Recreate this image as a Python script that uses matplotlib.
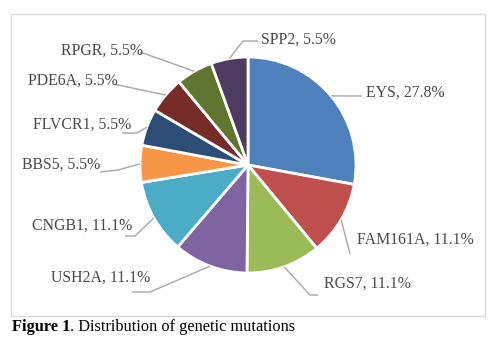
import numpy as np
import matplotlib
matplotlib.use("Agg")
import matplotlib.pyplot as plt
from matplotlib.patches import Rectangle

genes = ["EYS", "FAM161A", "RGS7", "USH2A", "CNGB1",
         "BBS5", "FLVCR1", "PDE6A", "RPGR", "SPP2"]
shares = [27.8, 11.1, 11.1, 11.1, 11.1, 5.5, 5.5, 5.5, 5.5, 5.5]
colors = ["#4F81BD", "#C0504D", "#9BBB59", "#8064A2", "#4BACC6",
          "#F79646", "#2C4D75", "#772C2A", "#5F7530", "#4D3B62"]

W, H = 498, 341
plt.rcParams["font.family"] = ["Liberation Serif", "DejaVu Serif"]

fig = plt.figure(figsize=(W / 100, H / 100), dpi=100)
ax = fig.add_axes([0, 0, 1, 1])

def py(y):
    # top-down pixel row -> axis y
    return H - y

cx, cy, r = 248, 165, 108

ax.add_patch(Rectangle((11, py(316)), 474, 302, fill=False,
                       edgecolor="#D9D9D9", linewidth=1))

wedges, _ = ax.pie(shares, colors=colors, startangle=90, counterclock=False,
                   center=(cx, py(cy)), radius=r, frame=True,
                   wedgeprops=dict(edgecolor="white", linewidth=2))
ax.set_xlim(0, W)
ax.set_ylim(0, H)
ax.set_aspect("equal")
ax.axis("off")

# leader line elbow, line end, text anchor, alignment
leaders = {
    "EYS":     ((347, 96), (362, 96), (366, 93), "left"),
    "FAM161A": ((350, 254), (350, 254), (357, 240), "left"),
    "RGS7":    ((310, 295), (318, 295), (324, 284), "left"),
    "USH2A":   ((150, 292), (132, 292), (150, 278), "right"),
    "CNGB1":   ((135, 236), (125, 236), (132, 226), "right"),
    "BBS5":    ((118, 170), (100, 172), (100, 165), "right"),
    "FLVCR1":  ((137, 133), (122, 133), (131, 125), "right"),
    "PDE6A":   ((118, 85), (115, 85), (118, 81), "right"),
    "RPGR":    ((143, 53), (140, 53), (143, 51), "right"),
    "SPP2":    ((243, 41), (258, 41), (261, 40), "left"),
}

for w, gene, val in zip(wedges, genes, shares):
    mid = np.deg2rad((w.theta1 + w.theta2) / 2)
    sx = cx + r * np.cos(mid)
    sy = py(cy) + r * np.sin(mid)
    (ex, ey), (lx, ly), (tx, ty), ha = leaders[gene]
    ax.plot([sx, ex, lx], [sy, py(ey), py(ly)], color="#A6A6A6",
            linewidth=1, solid_capstyle="butt", zorder=1)
    ax.text(tx, py(ty), f"{gene}, {val}%", ha=ha, va="center",
            fontsize=11.4, color="#4A4A4A")

# caption: bold figure number followed by regular text
t1 = ax.text(12, py(327), "Figure 1", fontsize=11.8, fontweight="bold",
             color="black", ha="left", va="center")
fig.canvas.draw()
bb = t1.get_window_extent(fig.canvas.get_renderer())
ax.text(12 + bb.width, py(327), ". Distribution of genetic mutations",
        fontsize=11.8, color="black", ha="left", va="center")

fig.savefig("out.png", dpi=100)
